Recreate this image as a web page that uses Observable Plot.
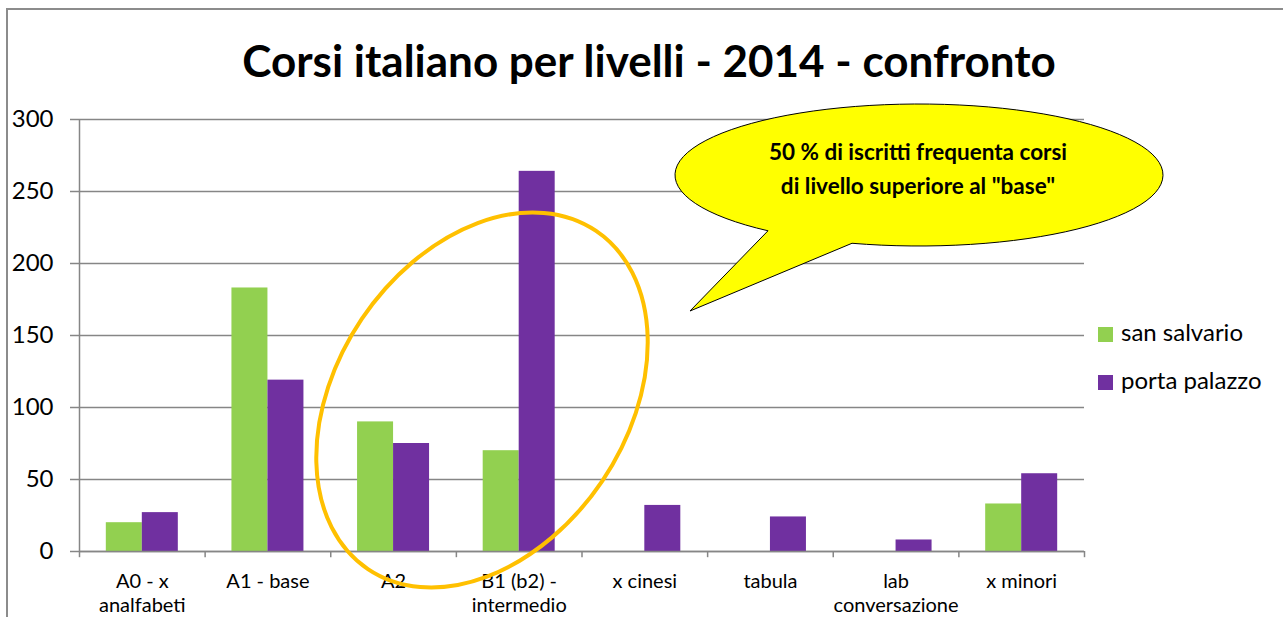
<!DOCTYPE html>
<html>
<head>
<meta charset="utf-8">
<script src="https://cdn.jsdelivr.net/npm/d3@7"></script>
<script src="https://cdn.jsdelivr.net/npm/@observablehq/plot@0.6"></script>
<style>
  body { margin: 0; background: #fff; font-family: Lato, "Liberation Sans", sans-serif; }
  #wrap { position: relative; width: 1283px; height: 617px; overflow: hidden; background: #fff; }
  #title { position: absolute; left: 0; top: 34px; width: 1298px; text-align: center; font-weight: bold; font-size: 44px; line-height: 52px; color: #000; white-space: nowrap; }
  .leg { position: absolute; left: 1098px; font-size: 24px; line-height: 28px; color: #000; white-space: nowrap; }
  .leg i { display: inline-block; width: 15px; height: 15px; margin-right: 8px; vertical-align: -1px; }
  #frameTop { position: absolute; left: 7px; top: 8px; width: 1276px; height: 2px; background: #8c8c8c; }
  #frameLeft { position: absolute; left: 6px; top: 8px; width: 2px; height: 609px; background: #8c8c8c; }
  svg { position: absolute; left: 0; top: 0; }
</style>
</head>
<body>
<div id="wrap">
  <div id="frameTop"></div>
  <div id="frameLeft"></div>
  <div id="title"></div>
  <div id="legend"></div>
</div>
<script>
const titleText = "Corsi italiano per livelli - 2014 - confronto";
const categories = ["A0 - x analfabeti", "A1 - base", "A2", "B1 (b2) - intermedio", "x cinesi", "tabula", "lab conversazione", "x minori"];
const tickLabels = ["A0 - x\nanalfabeti", "A1 - base", "A2", "B1 (b2) -\nintermedio", "x cinesi", "tabula", "lab\nconversazione", "x minori"];
const seriesNames = ["san salvario", "porta palazzo"];
const seriesColors = ["#92D050", "#7030A0"];
const sanSalvario = [20, 183, 90, 70, 0, 0, 0, 33];
const portaPalazzo = [27, 119, 75, 264, 32, 24, 8, 54];
const yTicks = [0, 50, 100, 150, 200, 250, 300];
const calloutLines = ["50 % di iscritti frequenta corsi", "di livello superiore al \"base\""];

const W = 1283, H = 617;
const mL = 79, mR = 199, mT = 119, mB = 66;
const step = (W - mL - mR) / categories.length;
const barW = 36;
const pInner = 1 - (2 * barW) / step;

const green = categories.map((c, i) => ({cat: c, value: sanSalvario[i]})).filter(d => d.value > 0);
const purple = categories.map((c, i) => ({cat: c, value: portaPalazzo[i]})).filter(d => d.value > 0);
const gridColor = "#868686";

document.getElementById("title").textContent = titleText;
const legend = document.getElementById("legend");
seriesNames.forEach((s, i) => {
  const d = document.createElement("div");
  d.className = "leg";
  d.style.top = (318 + i * 48) + "px";
  d.innerHTML = `<i style="background:${seriesColors[i]}"></i>${s}`;
  legend.appendChild(d);
});

const chart = Plot.plot({
  width: W, height: H,
  marginLeft: mL, marginRight: mR, marginTop: mT, marginBottom: mB,
  style: {fontFamily: "Lato, 'Liberation Sans', sans-serif", background: "transparent", color: "#000", overflow: "visible"},
  x: {domain: categories, paddingInner: pInner, paddingOuter: pInner / 2, round: false, label: null},
  y: {domain: [0, 300], label: null},
  marks: [
    Plot.gridY(yTicks, {stroke: gridColor, strokeOpacity: 1, strokeWidth: 1.5}),
    Plot.axisY(yTicks, {tickSize: 9, tickPadding: 17, fontSize: 24, stroke: gridColor, strokeWidth: 1.5, fill: "#000", label: null}),
    Plot.axisX({tickSize: 0, tickPadding: 19, fontSize: 20, lineHeight: 1.2, fill: "#000", label: null,
      tickFormat: d => tickLabels[categories.indexOf(d)]}),
    Plot.barY(green, {x: "cat", y: "value", fill: seriesColors[0], insetRight: barW}),
    Plot.barY(purple, {x: "cat", y: "value", fill: seriesColors[1], insetLeft: barW}),
    Plot.ruleX(categories.slice(0, 1), {x: d => d, dx: -step / 2, y1: 0, y2: 300, stroke: gridColor, strokeWidth: 1.5}),
    Plot.ruleX(categories, {x: d => d, dx: -step / 2, y1: 0, y2: -4.3, stroke: gridColor, strokeWidth: 1.5}),
    Plot.ruleX(categories.slice(-1), {x: d => d, dx: step / 2, y1: 0, y2: -4.3, stroke: gridColor, strokeWidth: 1.5}),
    Plot.ruleY([0], {stroke: gridColor, strokeWidth: 1.5})
  ]
});
document.getElementById("wrap").appendChild(chart);

// annotations
const svg = d3.select(chart);
const ann = svg.append("g");
// orange highlight ellipse
ann.append("ellipse")
  .attr("cx", 0).attr("cy", 0).attr("rx", 204).attr("ry", 145)
  .attr("transform", "translate(482,400) rotate(-56)")
  .attr("fill", "none").attr("stroke", "#FFC000").attr("stroke-width", 4);
// speech bubble
const cx = 919, cy = 175, rx = 244, ry = 71;
const bx1 = 768, bx2 = 852;
const by = x => cy + ry * Math.sqrt(1 - ((x - cx) / rx) ** 2);
ann.append("path")
  .attr("d", `M${bx1},${by(bx1)} L690,311 L${bx2},${by(bx2)} A${rx} ${ry} 0 1 0 ${bx1},${by(bx1)} Z`)
  .attr("fill", "#FFFF00").attr("stroke", "#000").attr("stroke-width", 1);
calloutLines.forEach((t, i) => {
  ann.append("text").attr("x", 918).attr("y", 160 + i * 34)
    .attr("text-anchor", "middle").attr("font-weight", "bold").attr("font-size", 22.5)
    .attr("font-family", "Lato, 'Liberation Sans', sans-serif").text(t);
});
</script>
</body>
</html>
